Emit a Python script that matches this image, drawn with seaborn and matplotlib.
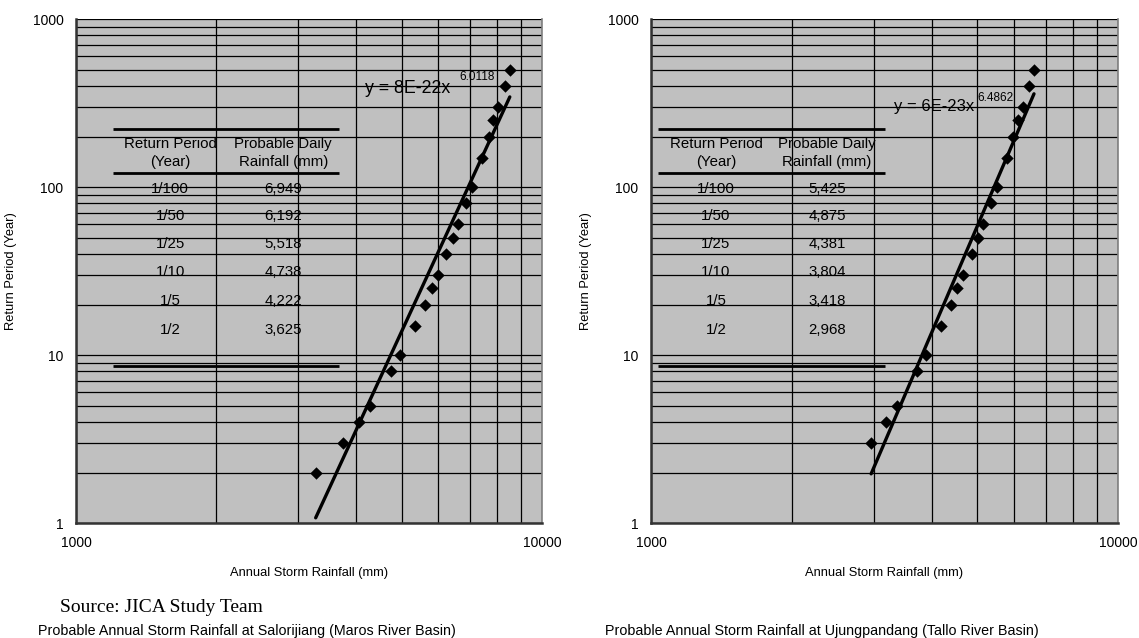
import numpy as np
import pandas as pd
import matplotlib
matplotlib.use("Agg")
import matplotlib.pyplot as plt
import seaborn as sns

# data
return_period_a = [2, 3, 4, 5, 8, 10, 15, 20, 25, 30, 40, 50, 60, 80, 100,
                   150, 200, 250, 300, 400, 500]
rainfall_a = [3270, 3740, 4050, 4275, 4740, 4955, 5340, 5610, 5810, 5980, 6220,
              6440, 6605, 6870, 7075, 7435, 7695, 7850, 8046, 8330, 8536]

return_period_b = [3, 4, 5, 8, 10, 15, 20, 25, 30, 40, 50, 60, 80, 100,
                   150, 200, 250, 300, 400, 500]
rainfall_b = [2960, 3185, 3365, 3715, 3880, 4180, 4385, 4520, 4660, 4865, 5015,
              5140, 5350, 5510, 5780, 5960, 6110, 6265, 6445, 6607]

# trendline y = c * x^k as printed on the chart
coef_a, exp_a = 8e-22, 6.0118
coef_b, exp_b = 6e-23, 6.4862
eq_a = ("y = 8E-22x", "6.0118")
eq_b = ("y = 6E-23x", "6.4862")

table_periods = ["1/100", "1/50", "1/25", "1/10", "1/5", "1/2"]
table_a = ["6,949", "6,192", "5,518", "4,738", "4,222", "3,625"]
table_b = ["5,425", "4,875", "4,381", "3,804", "3,418", "2,968"]

caption_a = "Probable Annual Storm Rainfall at Salorijiang (Maros River Basin)"
caption_b = "Probable Annual Storm Rainfall at Ujungpandang (Tallo River Basin)"

sns.set_style("white")
plt.rcParams['font.family'] = ['Liberation Sans', 'DejaVu Sans']
plt.rcParams['text.color'] = 'black'
plt.rcParams['axes.labelcolor'] = 'black'
plt.rcParams['xtick.color'] = 'black'
plt.rcParams['ytick.color'] = 'black'

fig = plt.figure(figsize=(11.39, 6.38), dpi=100)
ax1 = fig.add_axes([0.0667, 0.180, 0.409, 0.790])
ax2 = fig.add_axes([0.5716, 0.180, 0.410, 0.790])


def draw_panel(ax, xs, ys, coef, expo, eq, eq_pos, eq_size, values, tab):
    df = pd.DataFrame({'rain': xs, 'rp': ys})
    x_fit = np.array([min(xs), max(xs)], dtype=float)
    fit = pd.DataFrame({'rain': x_fit, 'rp': coef * x_fit ** expo})

    sns.lineplot(data=fit, x='rain', y='rp', ax=ax, color='black', lw=2.4)
    sns.scatterplot(data=df, x='rain', y='rp', ax=ax, marker='D', color='black',
                    s=40, edgecolor='black', linewidth=0, zorder=3)

    ax.set_xscale('log')
    ax.set_yscale('log')
    ax.set_xlim(1000, 10000)
    ax.set_ylim(1, 1000)
    ax.set_facecolor('#c0c0c0')
    ax.grid(True, which='both', color='black', lw=0.9)
    ax.set_axisbelow(True)

    ax.set_xticks([1000, 10000])
    ax.set_xticklabels(['1000', '10000'])
    ax.set_yticks([1, 10, 100, 1000])
    ax.set_yticklabels(['1', '10', '100', '1000'])
    ax.tick_params(axis='both', which='both', length=0, labelsize=10)
    ax.tick_params(axis='y', pad=9)
    ax.tick_params(axis='x', pad=9)

    ax.set_xlabel('Annual Storm Rainfall (mm)', fontsize=9.3)
    ax.set_ylabel('Return Period (Year)', fontsize=9.3)
    ax.xaxis.set_label_coords(0.5, -0.087)
    ax.yaxis.set_label_coords(-0.127, 0.5)

    for side in ['left', 'bottom']:
        ax.spines[side].set_color('#333333')
        ax.spines[side].set_linewidth(1.8)
    ax.spines['right'].set_color('#808080')
    ax.spines['right'].set_linewidth(1.2)
    ax.spines['top'].set_visible(False)

    # trendline equation
    ex, ey, sx, sy = eq_pos
    ax.text(ex, ey, eq[0], transform=ax.transAxes, fontsize=eq_size, va='center')
    ax.text(sx, sy, eq[1], transform=ax.transAxes, fontsize=8.5, va='center')

    # inset table
    t0, t1, c1, c2 = tab
    for yy in [0.782, 0.694, 0.3115]:
        ax.plot([t0, t1], [yy, yy], transform=ax.transAxes, color='black', lw=2,
                solid_capstyle='butt', zorder=4)
    ax.text(c1, 0.752, 'Return Period', transform=ax.transAxes, ha='center',
            va='center', fontsize=10.8)
    ax.text(c1, 0.716, '(Year)', transform=ax.transAxes, ha='center',
            va='center', fontsize=10.8)
    ax.text(c2, 0.752, 'Probable Daily', transform=ax.transAxes, ha='center',
            va='center', fontsize=10.8)
    ax.text(c2, 0.716, 'Rainfall (mm)', transform=ax.transAxes, ha='center',
            va='center', fontsize=10.8)
    rows_y = [0.663, 0.609, 0.554, 0.498, 0.440, 0.383]
    for ry, p, v in zip(rows_y, table_periods, values):
        ax.text(c1, ry, p, transform=ax.transAxes, ha='center', va='center',
                fontsize=10.8)
        ax.text(c2, ry, v, transform=ax.transAxes, ha='center', va='center',
                fontsize=10.8)


draw_panel(ax1, rainfall_a, return_period_a, coef_a, exp_a, eq_a,
           (0.620, 0.863, 0.822, 0.885), 12.8, table_a,
           (0.079, 0.564, 0.202, 0.445))
draw_panel(ax2, rainfall_b, return_period_b, coef_b, exp_b, eq_b,
           (0.520, 0.827, 0.698, 0.843), 12.0, table_b,
           (0.015, 0.501, 0.139, 0.377))

fig.text(60 / 1139, 1 - 607 / 638, 'Source: JICA Study Team', fontsize=14,
         family=['Liberation Serif', 'DejaVu Serif'], va='center')
fig.text(247 / 1139, 1 - 631 / 638, caption_a, fontsize=10.3, ha='center',
         va='center')
fig.text(822 / 1139, 1 - 631 / 638, caption_b, fontsize=10.3, ha='center',
         va='center')

fig.savefig('out.png', dpi=100)
